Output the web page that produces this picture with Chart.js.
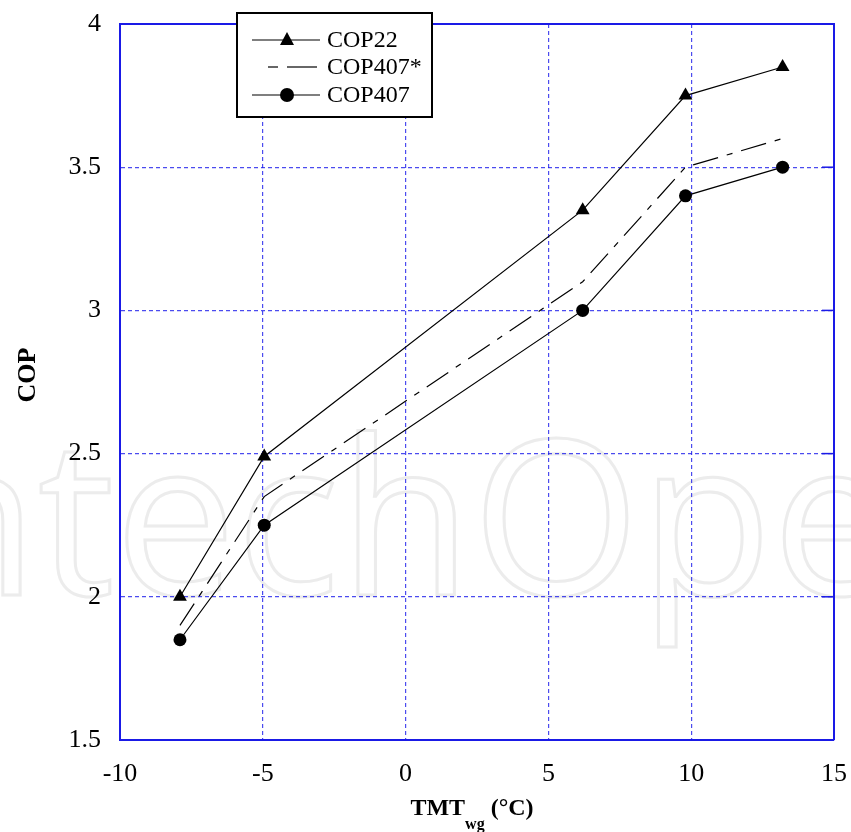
<!DOCTYPE html>
<html>
<head>
<meta charset="utf-8">
<script src="https://cdn.jsdelivr.net/npm/chart.js@4.4.1/dist/chart.umd.min.js"></script>
<style>
  html, body { margin: 0; padding: 0; background: #fff; }
  #wrap { width: 851px; height: 832px; position: relative; }
</style>
</head>
<body>
<div id="wrap"><canvas id="myChart" width="851" height="832"></canvas></div>
<script>
// data
var tmt = [-7.9, -4.95, 6.2, 9.8, 13.2];
var cop22 = [2.0, 2.49, 3.35, 3.75, 3.85];
var cop407star = [1.9, 2.35, 3.1, 3.5, 3.6];
var cop407 = [1.85, 2.25, 3.0, 3.4, 3.5];
var seriesNames = ["COP22", "COP407*", "COP407"];
var xTicks = [-10, -5, 0, 5, 10, 15];
var yTicks = [1.5, 2, 2.5, 3, 3.5, 4];

var serif = "'Liberation Serif', 'Times New Roman', serif";
var blue = 'rgba(30,30,235,0.8)';

function pts(xs, ys) {
  var out = [];
  for (var i = 0; i < xs.length; i++) out.push({ x: xs[i], y: ys[i] });
  return out;
}

// faint watermark behind everything
var watermark = {
  id: 'watermark',
  beforeDraw: function (chart) {
    var c = chart.ctx;
    c.save();
    c.font = "216px 'Open Sans', 'Noto Sans', sans-serif";
    c.strokeStyle = '#ececec';
    c.lineWidth = 3;
    c.textBaseline = 'alphabetic';
    c.strokeText('IntechOpen', -155, 595);
    c.restore();
  }
};

// boxed legend + axis titles
var extras = {
  id: 'extras',
  afterDraw: function (chart) {
    var c = chart.ctx;
    c.save();
    // legend box
    c.fillStyle = '#fff';
    c.fillRect(237, 13, 195, 104);
    c.strokeStyle = '#000';
    c.lineWidth = 2;
    c.strokeRect(237, 13, 195, 104);
    var rows = [40, 67, 95];
    c.lineWidth = 1.2;
    c.fillStyle = '#000';
    // COP22
    c.beginPath(); c.moveTo(252, rows[0]); c.lineTo(320, rows[0]); c.stroke();
    c.beginPath(); c.moveTo(287, rows[0] - 8); c.lineTo(294, rows[0] + 5); c.lineTo(280, rows[0] + 5); c.closePath(); c.fill();
    // COP407*
    c.beginPath(); c.moveTo(268, rows[1]); c.lineTo(278, rows[1]); c.stroke();
    c.beginPath(); c.moveTo(287, rows[1]); c.lineTo(317, rows[1]); c.stroke();
    // COP407
    c.beginPath(); c.moveTo(252, rows[2]); c.lineTo(320, rows[2]); c.stroke();
    c.beginPath(); c.arc(287, rows[2], 7, 0, Math.PI * 2); c.fill();
    c.font = "24px " + serif;
    c.textBaseline = 'middle';
    c.textAlign = 'left';
    for (var i = 0; i < seriesNames.length; i++) c.fillText(seriesNames[i], 327, rows[i] + 1);

    // x title with subscript
    c.textBaseline = 'alphabetic';
    var big = "bold 24px " + serif, small = "bold 16px " + serif;
    var t1 = 'TMT', t2 = 'wg', t3 = ' (°C)';
    c.font = big;
    var w1 = c.measureText(t1).width;
    var w3 = c.measureText(t3).width;
    c.font = small;
    var w2 = c.measureText(t2).width;
    var x0 = 472 - (w1 + w2 + w3) / 2;
    c.font = big;
    c.fillText(t1, x0, 815);
    c.fillText(t3, x0 + w1 + w2, 815);
    c.font = small;
    c.fillText(t2, x0 + w1, 829);

    // y title
    c.font = "bold 26px " + serif;
    c.translate(28, 375);
    c.rotate(-Math.PI / 2);
    c.textAlign = 'center';
    c.textBaseline = 'middle';
    c.fillText('COP', 0, 0);
    c.restore();
  }
};

// solid frame on top/right, small ticks on the right edge
var frame = {
  id: 'frame',
  beforeDatasetsDraw: function (chart) {
    var c = chart.ctx, a = chart.chartArea, ys = chart.scales.y;
    c.save();
    c.strokeStyle = '#1a1ae6';
    c.lineWidth = 2;
    c.beginPath();
    c.moveTo(a.left, a.top); c.lineTo(a.right, a.top); c.lineTo(a.right, a.bottom);
    c.stroke();
    c.lineWidth = 1.5;
    for (var i = 0; i < yTicks.length; i++) {
      var py = ys.getPixelForValue(yTicks[i]);
      c.beginPath(); c.moveTo(a.right - 12, py); c.lineTo(a.right, py); c.stroke();
    }
    c.restore();
  }
};

var ctx = document.getElementById('myChart').getContext('2d');
var chart = new Chart(ctx, {
  type: 'scatter',
  data: {
    datasets: [{
      label: seriesNames[0],
      data: pts(tmt, cop22),
      showLine: true,
      borderColor: '#000',
      backgroundColor: '#000',
      borderWidth: 1.2,
      pointStyle: 'triangle',
      pointRadius: 8,
      pointBorderWidth: 0
    }, {
      label: seriesNames[1],
      data: pts(tmt, cop407star),
      showLine: true,
      borderColor: '#000',
      borderWidth: 1.2,
      borderDash: [26, 9, 6, 9],
      pointRadius: 0
    }, {
      label: seriesNames[2],
      data: pts(tmt, cop407),
      showLine: true,
      borderColor: '#000',
      backgroundColor: '#000',
      borderWidth: 1.2,
      pointStyle: 'circle',
      pointRadius: 6.5,
      pointBorderWidth: 0
    }]
  },
  options: {
    responsive: false,
    animation: false,
    events: [],
    layout: { padding: { left: 0, top: 24, right: 17, bottom: 0 } },
    plugins: { legend: { display: false }, tooltip: { enabled: false } },
    scales: {
      x: {
        type: 'linear', min: -10, max: 15,
        afterFit: function (s) { s.height = 92; s.paddingLeft = 0; s.paddingRight = 0; },
        afterBuildTicks: function (s) { s.ticks = xTicks.map(function (v) { return { value: v }; }); },
        grid: { color: blue, lineWidth: 1.2, drawTicks: false },
        border: { display: true, color: '#1a1ae6', width: 2, dash: [4, 3] },
        ticks: {
          color: '#000', font: { family: serif, size: 26 }, padding: 19, maxRotation: 0,
          callback: function (v) { return String(v); }
        }
      },
      y: {
        type: 'linear', min: 1.5, max: 4,
        afterFit: function (s) { s.width = 120; s.paddingTop = 0; s.paddingBottom = 0; },
        afterBuildTicks: function (s) { s.ticks = yTicks.map(function (v) { return { value: v }; }); },
        grid: { color: blue, lineWidth: 1.2, drawTicks: false },
        border: { display: true, color: '#1a1ae6', width: 2, dash: [4, 3] },
        ticks: {
          color: '#000', font: { family: serif, size: 26 }, padding: 19,
          callback: function (v) { return String(v); }
        }
      }
    }
  },
  plugins: [watermark, extras, frame]
});
</script>
</body>
</html>
